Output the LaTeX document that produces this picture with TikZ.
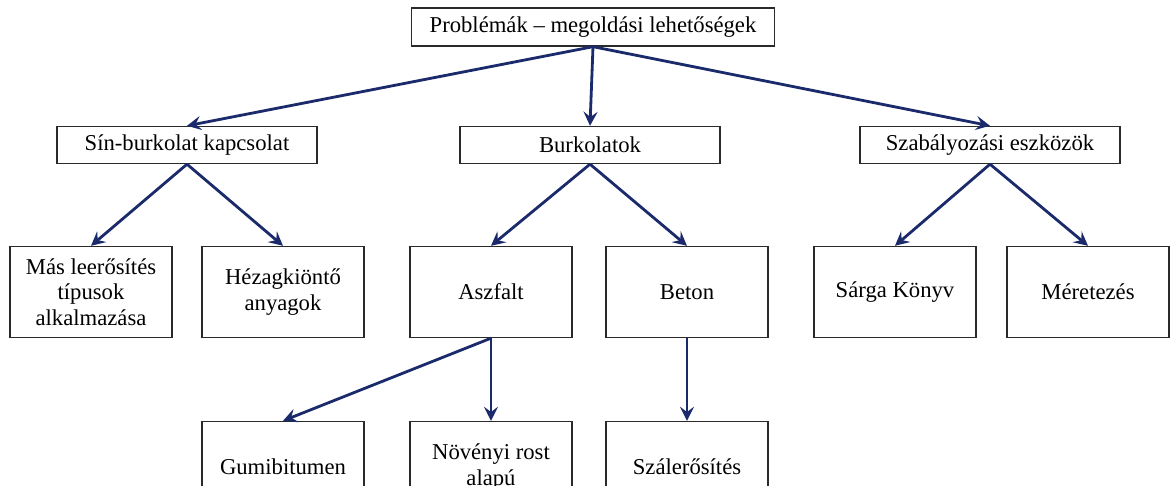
\documentclass[tikz,border=0pt]{standalone}
\usepackage{fontspec}
\setmainfont{Liberation Serif}
\usepackage{tikz}
\usetikzlibrary{arrows.meta, positioning}

\definecolor{arrowblue}{HTML}{1B2A6B}
\definecolor{boxline}{HTML}{2A2A2A}

\begin{document}
\begin{tikzpicture}[x=0.02cm, y=-0.02cm,
    every node/.style={rectangle, draw=boxline, line width=0.8pt, align=center, inner sep=2pt,
                       font=\fontsize{12.9}{14.5}\selectfont},
    wide/.style={minimum width=5.2cm, minimum height=0.74cm},
    leaf/.style={minimum width=3.24cm, minimum height=1.82cm},
    link/.style={draw=arrowblue, line width=1.6pt, -{Stealth[length=8pt, width=8pt, inset=3pt]}}]
    \useasboundingbox (0,0) rectangle (1170,486);
    \node[minimum width=7.26cm, minimum height=0.76cm] (prob) at (593,27) {Problémák -- megoldási lehetőségek};
    \node[wide] (sin) at (187,145) {Sín-burkolat kapcsolat};
    \node[wide] (burk) at (590,145) {Burkolatok};
    \node[wide] (szab) at (990,145) {Szabályozási eszközök};
    \node[leaf] (mas) at (91,292) {Más leerősítés\\típusok\\alkalmazása};
    \node[leaf] (hez) at (283,292) {Hézagkiöntő\\anyagok};
    \node[leaf] (aszf) at (491,292) {Aszfalt};
    \node[leaf] (beton) at (687,292) {Beton};
    \node[leaf] (sarga) at (895,292) {Sárga Könyv};
    \node[leaf] (meret) at (1088,292) {Méretezés};
    \node[leaf] (gumi) at (283,467) {Gumibitumen};
    \node[leaf] (noveny) at (491,467) {Növényi rost\\alapú};
    \node[leaf] (szal) at (687,467) {Szálerősítés};
    \draw[link] (prob.south) -- (sin.north);
    \draw[link] (prob.south) -- (burk.north);
    \draw[link] (prob.south) -- (szab.north);
    \draw[link] (sin.south) -- (mas.north);
    \draw[link] (sin.south) -- (hez.north);
    \draw[link] (burk.south) -- (aszf.north);
    \draw[link] (burk.south) -- (beton.north);
    \draw[link] (szab.south) -- (sarga.north);
    \draw[link] (szab.south) -- (meret.north);
    \draw[link] (aszf.south) -- (gumi.north);
    \draw[link] (aszf.south) -- (noveny.north);
    \draw[link] (beton.south) -- (szal.north);
\end{tikzpicture}
\end{document}
